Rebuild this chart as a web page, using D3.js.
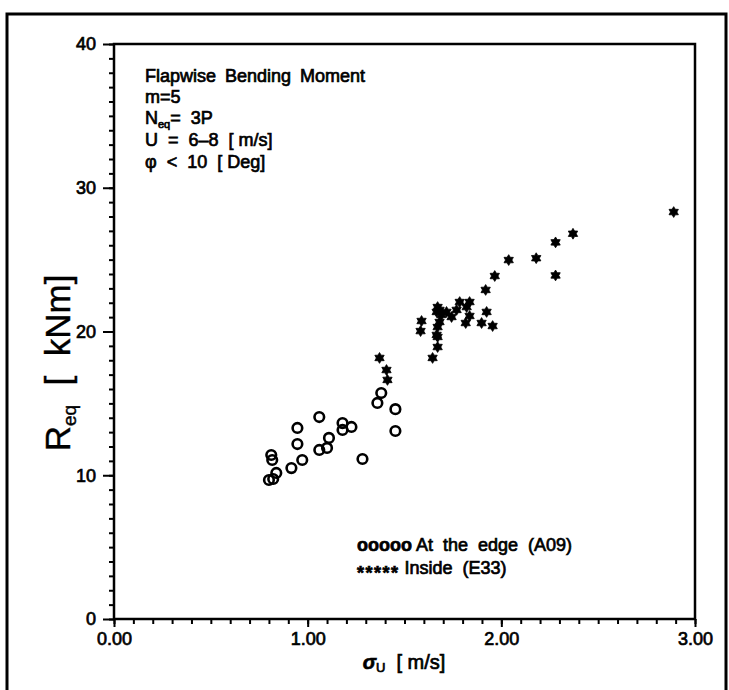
<!DOCTYPE html>
<html><head><meta charset="utf-8">
<script src="https://cdn.jsdelivr.net/npm/d3@7"></script>
<style>
html,body{margin:0;padding:0;background:#fff;}
svg{display:block;}
text{font-family:"Liberation Sans",Arial,sans-serif;fill:#000;}
</style></head>
<body>
<svg id="chart" width="729" height="690"></svg>
<script>
// ---- data ----
const edgeX = [0.812,0.817,0.800,0.822,0.838,0.916,0.972,0.947,0.947,1.060,1.060,1.100,1.110,1.180,1.180,1.226,1.283,1.360,1.380,1.453,1.453];
const edgeY = [11.41,11.06,9.67,9.74,10.16,10.50,11.06,12.17,13.29,14.05,11.76,11.90,12.60,13.63,13.15,13.36,11.13,15.03,15.72,14.60,13.08];
const insideX = [2.038,1.966,1.919,1.924,1.955,1.898,1.836,1.816,1.785,1.836,1.821,1.769,1.743,1.717,1.671,1.681,1.691,1.666,1.681,1.671,1.666,1.671,1.671,1.645,1.588,1.583,1.371,1.407,1.412,2.890,2.180,2.280,2.370,2.280];
const insideY = [24.97,23.86,22.89,21.36,20.38,20.59,21.08,20.59,22.05,22.05,21.70,21.50,21.01,21.36,21.70,21.50,21.15,21.36,20.66,20.31,19.76,19.62,18.92,18.16,20.73,20.03,18.16,17.32,16.63,28.31,25.10,26.20,26.80,23.90];
const xMajorTicks = [0,1,2,3];
const yMajorTicks = [0,10,20,30,40];
const legendLabels = ["At the edge (A09)", "Inside (E33)"];

const svg = d3.select("#chart");
const x = d3.scaleLinear().domain([0,3]).range([114,695]);
const y = d3.scaleLinear().domain([0,40]).range([619,44]);

// outer frame
svg.append("rect").attr("x",7).attr("y",14).attr("width",719).attr("height",700)
  .attr("fill","none").attr("stroke","#000").attr("stroke-width",3);

// plot box
svg.append("rect").attr("x",x(0)).attr("y",y(40)).attr("width",x(3)-x(0)).attr("height",y(0)-y(40))
  .attr("fill","none").attr("stroke","#000").attr("stroke-width",2.5);

// axes
function styleAxis(g){
  g.select(".domain").remove();
  g.selectAll(".tick line").attr("stroke","#000").attr("stroke-width",2);
  g.selectAll(".tick text").style("font-size","18px").attr("stroke","#000").attr("stroke-width",0.7);
}
svg.append("g").attr("transform",`translate(${x(0)},0)`)
  .call(d3.axisLeft(y).tickValues(d3.range(0,41,1)).tickSize(5).tickFormat(""))
  .call(styleAxis);
svg.append("g").attr("transform",`translate(${x(0)},0)`)
  .call(d3.axisLeft(y).tickValues(yMajorTicks).tickSize(11).tickPadding(7).tickFormat(d3.format("d")))
  .call(styleAxis);
svg.append("g").attr("transform",`translate(0,${y(0)})`)
  .call(d3.axisBottom(x).tickValues(d3.range(0,31,1).map(d=>d/10)).tickSize(5).tickFormat(""))
  .call(styleAxis);
svg.append("g").attr("transform",`translate(0,${y(0)})`)
  .call(d3.axisBottom(x).tickValues(xMajorTicks).tickSize(8).tickPadding(5).tickFormat(d3.format(".2f")))
  .call(styleAxis);

// markers
function starPath(r1,r2,n){
  const pts=[];
  for(let i=0;i<2*n;i++){
    const a=-Math.PI/2 + i*Math.PI/n;
    const r = i%2===0 ? r1 : r2;
    pts.push([r*Math.cos(a), r*Math.sin(a)]);
  }
  return "M"+pts.map(p=>p[0].toFixed(2)+","+p[1].toFixed(2)).join("L")+"Z";
}
svg.append("g").selectAll("circle").data(d3.range(edgeX.length)).join("circle")
  .attr("cx",i=>x(edgeX[i])).attr("cy",i=>y(edgeY[i])).attr("r",4.8)
  .attr("fill","none").attr("stroke","#000").attr("stroke-width",2.6);
const sp = starPath(5.4,3.2,6);
svg.append("g").selectAll("path").data(d3.range(insideX.length)).join("path")
  .attr("transform",i=>`translate(${x(insideX[i])},${y(insideY[i])})`)
  .attr("d",sp).attr("fill","#000").attr("stroke","#000").attr("stroke-width",0.8);

// annotation
const ann = svg.append("g").style("font-size","18px").attr("stroke","#000").attr("stroke-width",0.7);
const ax = 145;
ann.append("text").attr("x",ax).attr("y",82).style("word-spacing","4px").text("Flapwise Bending Moment");
ann.append("text").attr("x",ax).attr("y",103).text("m=5");
const t3 = ann.append("text").attr("x",ax).attr("y",124).attr("xml:space","preserve");
t3.append("tspan").text("N");
t3.append("tspan").attr("dy",4).style("font-size","11px").text("eq");
t3.append("tspan").attr("dy",-4).text("=  3P");
ann.append("text").attr("x",ax).attr("y",146).attr("xml:space","preserve").text("U  =  6–8  [ m/s]");
ann.append("text").attr("x",ax).attr("y",168).attr("xml:space","preserve").text("φ  <  10  [ Deg]");

// legend
const lg = svg.append("g").style("font-size","18px").attr("stroke","#000").attr("stroke-width",0.7);
const l1 = lg.append("text").attr("x",357).attr("y",551).attr("xml:space","preserve");
l1.append("tspan").style("font-weight","bold").text("ooooo");
l1.append("tspan").text(" " + legendLabels[0].replace(/ /g,"  "));
const l2 = lg.append("text").attr("x",357).attr("y",574).attr("xml:space","preserve");
l2.append("tspan").attr("dy",5).style("font-weight","bold").style("letter-spacing","1.5px").text("*****");
l2.append("tspan").attr("dy",-5).text(" " + legendLabels[1].replace(/ /g,"  "));

// axis titles
const xt = svg.append("text").attr("x",404).attr("y",669).attr("text-anchor","middle")
  .style("font-size","20px").attr("stroke","#000").attr("stroke-width",0.7).attr("xml:space","preserve");
xt.append("tspan").style("font-style","italic").style("font-weight","bold").text("σ");
xt.append("tspan").attr("dy",3).style("font-size","13px").text("U");
xt.append("tspan").attr("dy",-3).text("  [ m/s]");

const yt = svg.append("text").attr("transform","translate(70,363) rotate(-90)").attr("text-anchor","middle")
  .style("font-size","35px").attr("stroke","#000").attr("stroke-width",0.4).attr("xml:space","preserve");
yt.append("tspan").text("R");
yt.append("tspan").attr("dy",6).style("font-size","19px").text("eq");
yt.append("tspan").attr("dy",-6).text("  [  kNm]");
</script>
</body></html>
